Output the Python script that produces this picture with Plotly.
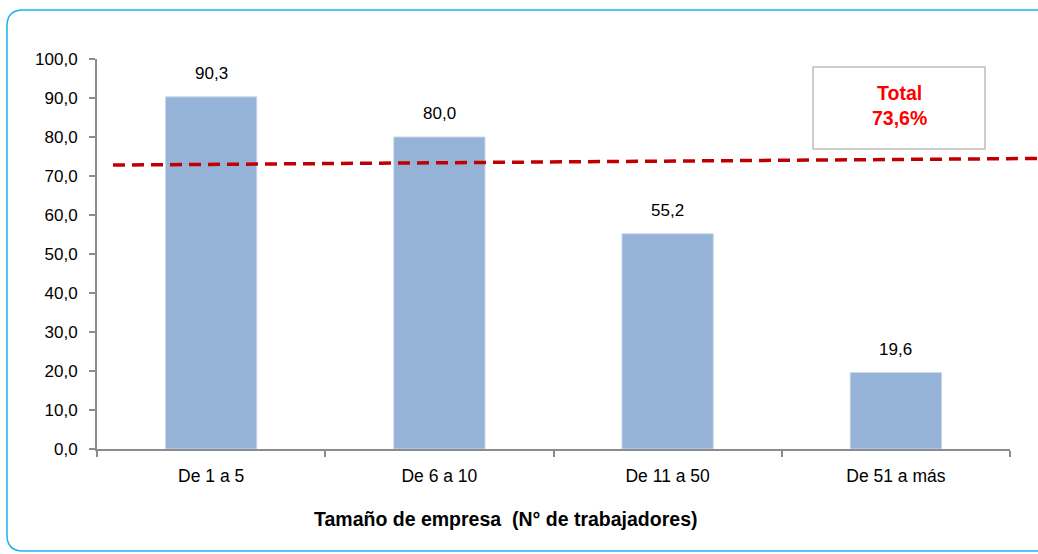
import plotly.graph_objects as go

categories = ["De 1 a 5", "De 6 a 10", "De 11 a 50", "De 51 a más"]
values = [90.3, 80.0, 55.2, 19.6]
total = 73.6
y_ticks = [0, 10, 20, 30, 40, 50, 60, 70, 80, 90, 100]

W, H = 1038, 554
ml, mr, mt, mb = 97, 28, 59, 105
pw, ph = W - ml - mr, H - mt - mb

def px_x(p):
    return (p - ml) / pw

def px_y(p):
    return (H - mb - p) / ph

fig = go.Figure()
fig.add_trace(go.Bar(
    x=categories, y=values, width=0.4,
    marker=dict(color="#95B3D7", line=dict(color="#C9D8EB", width=1)),
    hoverinfo="skip",
))

annotations = []
for c, v in zip(categories, values):
    annotations.append(dict(
        x=c, y=v, xref="x", yref="y", text=f"{v:.1f}".replace(".", ","),
        showarrow=False, yanchor="bottom", yshift=12,
        font=dict(family="Liberation Sans, Arial", size=17, color="#000"),
    ))

annotations.append(dict(
    x=px_x(505), y=px_y(519), xref="paper", yref="paper",
    xanchor="center", yanchor="middle",
    text="<b>Tamaño de empresa  (N° de trabajadores)</b>", showarrow=False,
    font=dict(family="Liberation Sans, Arial", size=19.5, color="#000"),
))
annotations.append(dict(
    x=px_x(899), y=px_y(105), xref="paper", yref="paper",
    xanchor="center", yanchor="middle",
    text="<b>Total<br>73,6%</b>", showarrow=False,
    font=dict(family="Liberation Sans, Arial", size=19.5, color="#FF0000"),
))

# outer rounded border (right side runs off the page)
x0, x1 = px_x(7), px_x(1090)
yt, yb = px_y(10), px_y(551)
rx, ry = 16 / pw, 16 / ph
path = (f"M {x0+rx},{yt} L {x1-rx},{yt} Q {x1},{yt} {x1},{yt-ry} "
        f"L {x1},{yb+ry} Q {x1},{yb} {x1-rx},{yb} L {x0+rx},{yb} "
        f"Q {x0},{yb} {x0},{yb+ry} L {x0},{yt-ry} Q {x0},{yt} {x0+rx},{yt} Z")

shapes = [
    dict(type="path", path=path, xref="paper", yref="paper",
         line=dict(color="#1EB4F0", width=1.5), layer="below"),
    dict(type="rect", xref="paper", yref="paper",
         x0=px_x(813), x1=px_x(985), y0=px_y(149), y1=px_y(67),
         line=dict(color="#BFBFBF", width=1.5), fillcolor="white"),
    dict(type="line", xref="paper", yref="y",
         x0=px_x(113), x1=px_x(1040), y0=total - 0.8, y1=total + 0.9,
         line=dict(color="#C00000", width=3.5, dash="12px,7px")),
]

fig.update_layout(
    width=W, height=H,
    margin=dict(l=ml, r=mr, t=mt, b=mb),
    paper_bgcolor="white", plot_bgcolor="white",
    separators=",.",
    showlegend=False,
    bargap=0.6,
    annotations=annotations,
    shapes=shapes,
    font=dict(family="Liberation Sans, Arial", size=17, color="#000"),
    xaxis=dict(
        showline=True, linecolor="#8C8C8C", linewidth=2,
        ticks="outside", tickcolor="#8C8C8C", ticklen=6, tickwidth=2,
        tickson="boundaries", showgrid=False,
        tickfont=dict(size=17.5, color="#000"),
        ticklabelstandoff=10,
    ),
    yaxis=dict(
        range=[0, 100], tickvals=y_ticks, tickformat=".1f",
        showline=True, linecolor="#8C8C8C", linewidth=2,
        ticks="outside", tickcolor="#8C8C8C", ticklen=6, tickwidth=2,
        showgrid=False, zeroline=False,
        tickfont=dict(size=17, color="#000"),
        ticklabelstandoff=8,
    ),
)

fig.write_html("out.html", config={"displayModeBar": False},
               post_script="document.body.style.margin='0';document.body.style.overflow='hidden';")
